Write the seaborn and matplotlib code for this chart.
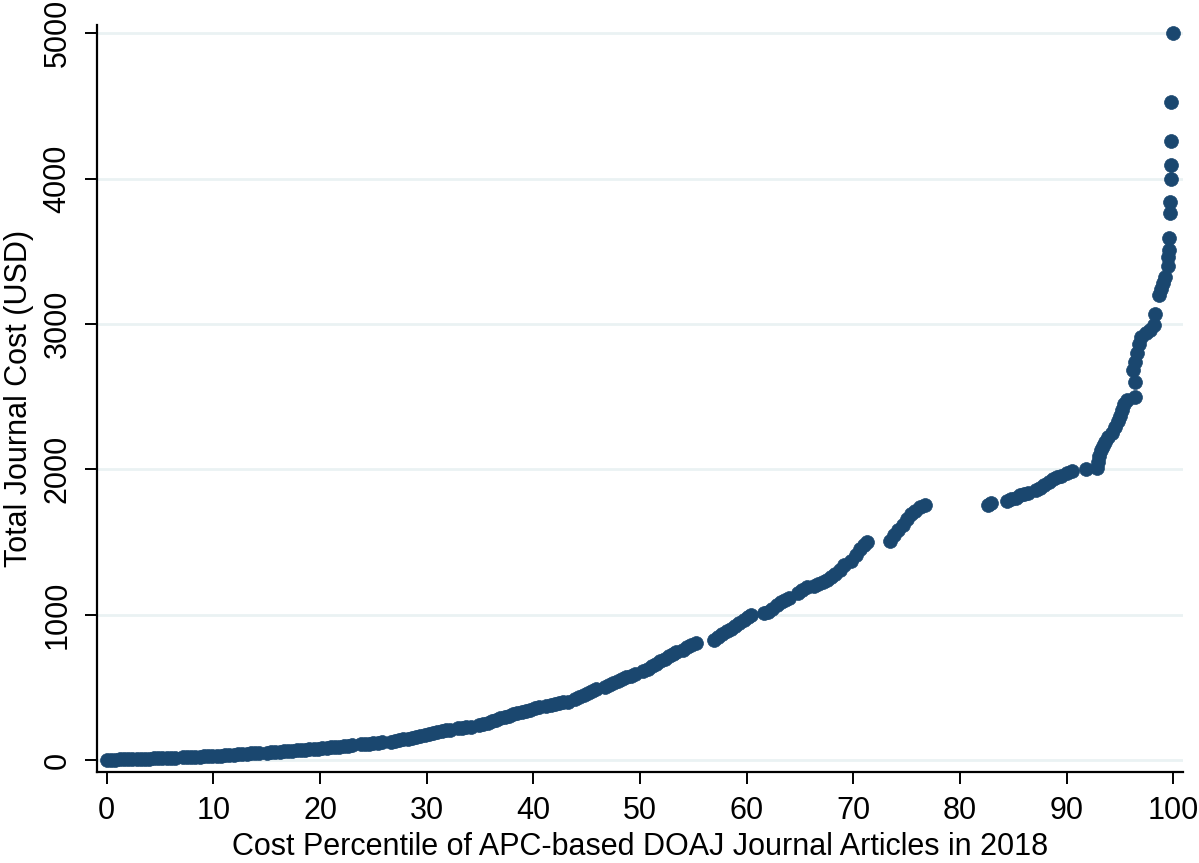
import pandas as pd
import seaborn as sns
import matplotlib.pyplot as plt
import numpy as np

# Cost percentile (x) and total journal cost in USD (y)
percentile = [
    0.0, 0.4, 0.8, 1.2, 1.6, 2.0, 2.4, 2.8, 3.2, 3.6, 4.0, 4.4, 4.8, 5.2, 5.6, 6.0, 6.4,
    7.1, 7.5, 7.9, 8.3, 8.7, 9.1, 9.5, 9.9, 10.3, 10.7, 11.1,
    11.5, 11.9, 12.3, 12.7, 13.1, 13.5, 13.9, 14.3,
    15.0, 15.4, 15.8, 16.2, 16.6, 17.0, 17.4, 17.8, 18.2, 18.6, 19.0, 19.4, 19.8, 20.2,
    20.6, 21.0, 21.4, 21.8, 22.2, 22.6, 23.0,
    23.8, 24.2, 24.6, 25.0, 25.4, 25.8,
    26.6, 27.0, 27.4, 27.8, 28.2, 28.6, 29.0, 29.4, 29.8, 30.2, 30.6, 31.0, 31.4, 31.8, 32.2,
    32.9, 33.3, 33.7, 34.1,
    34.9, 35.3, 35.7, 36.1, 36.5, 36.9, 37.3, 37.7,
    38.1, 38.5, 38.9, 39.3, 39.7, 40.1, 40.5,
    41.2, 41.6, 42.0, 42.4, 42.8, 43.2,
    43.9, 44.3, 44.7, 45.1, 45.5, 45.9,
    46.7, 47.1, 47.5, 47.9, 48.3, 48.7, 49.1, 49.5,
    50.3, 50.7, 51.1, 51.5, 51.9, 52.3, 52.7, 53.1, 53.4,
    54.0, 54.4, 54.8, 55.2,
    56.9, 57.3, 57.7, 58.1, 58.5, 58.9, 59.3, 59.7, 60.1, 60.4,
    61.6, 62.0, 62.4, 62.8, 63.2, 63.6, 64.0,
    64.8, 65.2, 65.6,
    66.3, 66.7, 67.1, 67.5, 67.9, 68.3, 68.7, 69.1,
    69.8, 70.2, 70.6, 71.0, 71.3,
    73.4, 73.8, 74.2, 74.6, 75.0, 75.4, 75.8, 76.2, 76.7,
    82.6, 82.9,
    84.4, 84.8, 85.2, 85.6, 86.0, 86.4,
    87.1, 87.5, 87.9, 88.3, 88.7, 89.1, 89.5,
    90.0, 90.5, 91.8,
    92.8, 92.9, 93.0, 93.2, 93.4, 93.6, 93.9, 94.2, 94.5, 94.8, 95.0, 95.2, 95.4, 95.6,
    96.4, 96.4, 96.2, 96.4, 96.6, 96.8, 97.0, 97.4, 97.8, 98.2, 98.3,
    98.6, 98.8, 99.0, 99.2, 99.5, 99.5, 99.55, 99.6, 99.7, 99.7, 99.75, 99.75, 99.8, 99.8,
    100.0,
]
cost = [
    0, 2, 3, 4, 5, 6, 7, 8, 8, 9, 10, 11, 12, 13, 14, 15, 17,
    20, 21, 22, 23, 24, 25, 26, 27, 29, 31, 33,
    37, 38, 40, 42, 44, 46, 48, 50,
    52, 54, 56, 58, 60, 62, 64, 66, 69, 71, 74, 76, 79, 82,
    84, 87, 90, 93, 96, 99, 103,
    108, 110, 113, 116, 119, 122,
    125, 130, 136, 142, 148, 154, 160, 167, 173, 180, 186, 192, 198, 204, 210,
    218, 222, 226, 230,
    242, 250, 258, 267, 276, 286, 296, 306,
    318, 325, 332, 340, 347, 355, 362,
    372, 378, 385, 391, 397, 402,
    418, 432, 448, 463, 478, 492,
    505, 518, 530, 543, 556, 568, 580, 592,
    610, 628, 646, 664, 682, 698, 715, 732, 745,
    760, 775, 792, 808,
    825, 845, 865, 885, 905, 925, 945, 965, 985, 1000,
    1010, 1020, 1040, 1065, 1085, 1100, 1115,
    1150, 1170, 1188,
    1200, 1210, 1225, 1240, 1260, 1280, 1310, 1340,
    1370, 1410, 1450, 1480, 1500,
    1510, 1545, 1580, 1620, 1660, 1690, 1715, 1740, 1755,
    1755, 1770,
    1785, 1795, 1805, 1820, 1830, 1840,
    1855, 1870, 1890, 1910, 1930, 1945, 1955,
    1975, 1990, 2000,
    2010, 2050, 2090, 2130, 2160, 2190, 2220, 2250, 2290, 2330, 2370, 2410, 2450, 2480,
    2500, 2600, 2680, 2740, 2800, 2860, 2910, 2940, 2960, 2990, 3070,
    3200, 3240, 3280, 3320, 3400, 3460, 3510, 3590, 3760, 3840, 4000, 4090, 4260, 4525,
    5000,
]

x_ticks = list(range(0, 101, 10))
y_ticks = list(range(0, 5001, 1000))

df = pd.DataFrame({'percentile': percentile, 'cost': cost})

sns.set_style('white')
plt.rcParams['font.family'] = ['Liberation Sans', 'DejaVu Sans']

fig = plt.figure(figsize=(11.99, 8.63), dpi=100)
ax = fig.add_axes([0.0807, 0.1058, 0.906, 0.865])

# Light horizontal grid like Stata's s2color scheme
for yv in y_ticks:
    ax.axhline(yv, color='#EAF2F3', linewidth=2, zorder=0)

sns.scatterplot(data=df, x='percentile', y='cost', ax=ax, color='#1a476f',
                edgecolor='#1a476f', s=100, linewidth=0.5, zorder=3)

ax.set_xlim(-0.94, 100.9)
ax.set_ylim(-80, 5055)
ax.set_xticks(x_ticks)
ax.set_yticks(y_ticks)

ax.spines['top'].set_visible(False)
ax.spines['right'].set_visible(False)
for side in ['left', 'bottom']:
    ax.spines[side].set_linewidth(1.6)
    ax.spines[side].set_color('black')

ax.tick_params(axis='both', direction='out', length=8.5, width=1.4,
               labelsize=22, pad=9, colors='black', left=True, bottom=True)
for lab in ax.get_yticklabels():
    lab.set_rotation(90)
    lab.set_va('center')

ax.set_xlabel('Cost Percentile of APC-based DOAJ Journal Articles in 2018',
              fontsize=22, labelpad=4, color='black')
ax.set_ylabel('Total Journal Cost (USD)', fontsize=22, labelpad=6, color='black')

plt.savefig('out.png', dpi=100)
plt.close()
